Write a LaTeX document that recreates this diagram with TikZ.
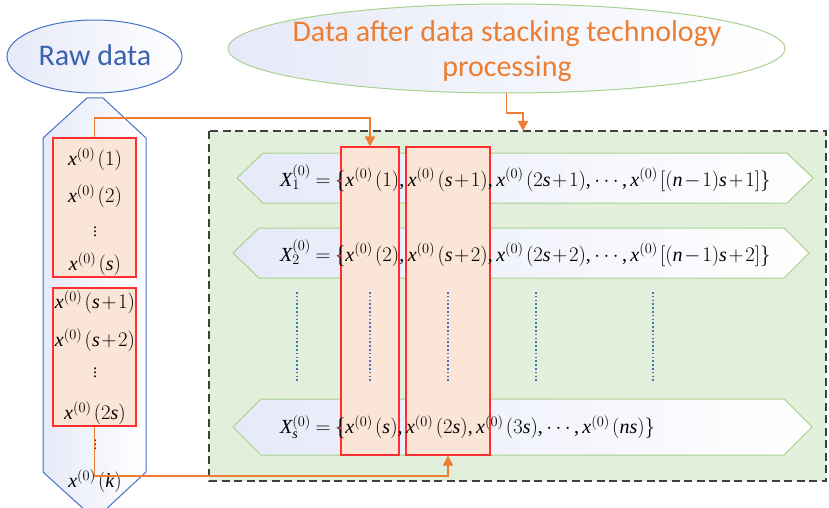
\documentclass[tikz,border=0pt]{standalone}
\usepackage{fontspec}
\setmainfont{Liberation Serif}
\newfontfamily\calib{Carlito}
\newfontfamily\lsrit[NFSSFamily=lsr]{Liberation Serif}
\DeclareSymbolFont{letters}{TU}{lsr}{m}{it}
\mathcode`\,="602C
\usetikzlibrary{arrows.meta,shapes.geometric}
\definecolor{rawblue}{HTML}{3A62AE}
\definecolor{edgeblue}{HTML}{4472C4}
\definecolor{orng}{HTML}{ED7D31}
\definecolor{lgreen}{HTML}{A9D18E}
\definecolor{bggreen}{HTML}{E2EFDA}
\definecolor{peach}{HTML}{FBE5D6}
\definecolor{lav}{HTML}{E6E9F8}
\definecolor{redline}{HTML}{FF2F2F}
\definecolor{dashgray}{HTML}{404040}
\newcommand{\tightmath}{\medmuskip=1.5mu\relax\thickmuskip=4mu\relax}
\tikzset{
  x=1pt, y=-1pt,
  lbl/.style={font=\calib\fontsize{30}{35}\selectfont, align=center, inner sep=0},
  mtext/.style={font=\fontsize{20}{24}\selectfont\tightmath, inner sep=0},
  dtext/.style={font=\fontsize{16}{18}\selectfont, inner sep=0},
  hexrow/.style={draw=lgreen, line width=1pt, left color=lav, right color=white},
  peachbox/.style={draw=redline, fill=peach, line width=1.1pt},
  conn/.style={draw=orng, line width=1.6pt, -{Triangle[length=10pt,width=10pt]}},
  dotv/.style={draw=edgeblue, line width=1.3pt, dash pattern=on 1.6pt off 2.2pt},
}
\newcommand{\xz}[1]{x^{(0)}\mkern2mu(#1)}
\begin{document}
\begin{tikzpicture}
\useasboundingbox (0,0) rectangle (829,508);
% ellipses
\node[ellipse, draw=edgeblue, line width=1pt, left color=lav, right color=white,
      minimum width=175, minimum height=73, inner sep=0] (raw) at (94.5,56.5) {};
\node[lbl, text=rawblue] (rawt) at (95,55) {Raw data};
\node[ellipse, draw=lgreen, line width=1pt, left color=lav, right color=white,
      minimum width=557, minimum height=89, inner sep=0] (data) at (506.5,48.5) {};
\node[lbl, text=orng] (datat) at (507,51) {Data after data stacking technology\\processing};
% green dashed area
\path[fill=bggreen, draw=dashgray, line width=1.3pt, dash pattern=on 8pt off 4.5pt]
  (209,131) rectangle (826,481);
\coordinate (areatop) at (523,131);
% hexagon rows
\path[hexrow] (237,178) -- (263,153) -- (787,153) -- (813,178) -- (787,203) -- (263,203) -- cycle;
\path[hexrow] (233,253) -- (259,228) -- (784,228) -- (809,253) -- (784,278) -- (259,278) -- cycle;
\path[hexrow] (233,427) -- (261,399) -- (784,399) -- (812,427) -- (784,455) -- (261,455) -- cycle;
% column boxes
\node[peachbox, minimum width=58, minimum height=308, inner sep=0] (cb1) at (370,301) {};
\node[peachbox, minimum width=84, minimum height=308, inner sep=0] (cb2) at (448,301) {};
% dotted lines
\foreach \xx/\nm in {297/da,370/db,448/dc,536/dd,653/de}{
  \coordinate (\nm1) at (\xx,292); \coordinate (\nm2) at (\xx,383);
  \draw[dotv] (\nm1) -- (\nm2);
}
% row texts
\node[mtext, anchor=west] (r1) at (280,178) {$X_1^{(0)}=\Bigl\{\xz{1},\xz{s+1},\xz{2s+1},\cdots,x^{(0)}\mkern2mu\Bigl[\bigl(n-1\bigr)s+1\Bigr]\Bigr\}$};
\node[mtext, anchor=west] (r2) at (280,253) {$X_2^{(0)}=\Bigl\{\xz{2},\xz{s+2},\xz{2s+2},\cdots,x^{(0)}\mkern2mu\Bigl[\bigl(n-1\bigr)s+2\Bigr]\Bigr\}$};
\node[mtext, anchor=west] (r3) at (280,427) {$X_s^{(0)}=\Bigl\{\xz{s},\xz{2s},\xz{3s},\cdots,\xz{ns}\Bigr\}$};
% left column
\path[draw=edgeblue, line width=1pt, left color=lav, right color=white]
  (87,98) -- (103,98) -- (146,138) -- (146,472) -- (103,512) -- (87,512) -- (43,472) -- (43,138) -- cycle;
\node[peachbox, minimum width=83, minimum height=139, inner sep=0] (lb1) at (94.5,207.5) {};
\node[peachbox, minimum width=83, minimum height=138, inner sep=0] (lb2) at (94.5,357) {};
\node[mtext] (a1) at (95,159) {$\xz{1}$};
\node[mtext] (a2) at (95,196) {$\xz{2}$};
\node[dtext] (a3) at (95,229) {$\vdots$};
\node[mtext] (a4) at (95,264) {$\xz{s}$};
\node[mtext] (b1) at (95,302) {$\xz{s+1}$};
\node[mtext] (b2) at (95,340) {$\xz{s+2}$};
\node[dtext] (b3) at (95,370) {$\vdots$};
\node[mtext] (b4) at (95,413) {$\xz{2s}$};
\node[dtext] (c1) at (95,442) {$\vdots$};
\node[mtext] (c2) at (95,481) {$\xz{k}$};
% connectors
\draw[conn] (lb1.north) -- (lb1.north |- 0,118) -| (cb1.north);
\draw[conn] (lb2.south) -- (lb2.south |- 0,476) -| (cb2.south);
\draw[conn] (data.south) -- (data.south |- 0,113) -| (areatop);
\end{tikzpicture}
\end{document}
